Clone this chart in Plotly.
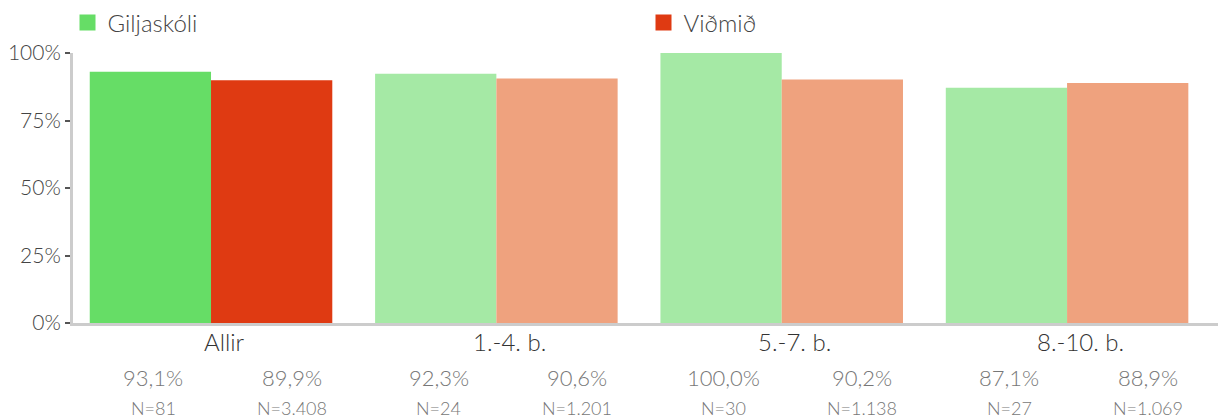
import plotly.graph_objects as go

categories = ["Allir", "1.-4. b.", "5.-7. b.", "8.-10. b."]
school_name = "Giljaskóli"
bench_name = "Viðmið"
school_vals = [93.1, 92.3, 100.0, 87.1]
bench_vals = [89.9, 90.6, 90.2, 88.9]
school_labels = ["93,1%", "92,3%", "100,0%", "87,1%"]
bench_labels = ["89,9%", "90,6%", "90,2%", "88,9%"]
school_n = ["N=81", "N=24", "N=30", "N=27"]
bench_n = ["N=3.408", "N=1.201", "N=1.138", "N=1.069"]
y_ticks = [0, 25, 50, 75, 100]
y_ticktext = ["0%", "25%", "50%", "75%", "100%"]

school_colors = ["#66dd66"] + ["#a5e9a5"] * 3
bench_colors = ["#df3a12"] + ["#efa27e"] * 3

FONT = "Lato"
xs = list(range(len(categories)))

# the page body has an 8px margin, so the figure is drawn 8px smaller
W, H = 1218, 411

fig = go.Figure()
fig.add_trace(go.Bar(x=xs, y=school_vals, name=school_name, showlegend=False,
                     marker=dict(color=school_colors, line=dict(width=0))))
fig.add_trace(go.Bar(x=xs, y=bench_vals, name=bench_name, showlegend=False,
                     marker=dict(color=bench_colors, line=dict(width=0))))
# legend swatches
for nm, col in [(school_name, school_colors[0]), (bench_name, bench_colors[0])]:
    fig.add_trace(go.Scatter(x=[None], y=[None], mode="markers", name=nm,
                             marker=dict(symbol="square", size=16, color=col)))

off = 0.85 / 4
for i in xs:
    fig.add_annotation(x=i + 0.046, y=0, xref="x", yref="paper", text=categories[i],
                       showarrow=False, yanchor="middle", yshift=-18,
                       font=dict(family=FONT, size=24, color="#333333", weight=300))
    for dx, lab, n in [(-off + 0.01, school_labels[i], school_n[i]),
                       (off + 0.07, bench_labels[i], bench_n[i])]:
        fig.add_annotation(x=i + dx, y=0, xref="x", yref="paper", text=lab,
                           showarrow=False, yanchor="middle", yshift=-54,
                           font=dict(family=FONT, size=22, color="#777777", weight=300))
        fig.add_annotation(x=i + dx, y=0, xref="x", yref="paper", text=n,
                           showarrow=False, yanchor="middle", yshift=-85,
                           font=dict(family=FONT, size=18, color="#777777", weight=300))

fig.update_layout(
    width=W, height=H,
    margin=dict(l=65, r=0, t=45, b=96, autoexpand=False),
    paper_bgcolor="white", plot_bgcolor="white",
    barmode="group", bargap=0.15, bargroupgap=0,
    font=dict(family=FONT, color="#333333"),
    showlegend=True,
    legend=dict(orientation="h", xref="container", yref="container",
                x=59.5 / W, y=1 - 15 / H, xanchor="left", yanchor="middle",
                entrywidth=531, itemsizing="trace",
                font=dict(family=FONT, size=24, color="#444444", weight=300),
                itemclick=False),
    xaxis=dict(range=[-0.4837, 3.557], showgrid=False, zeroline=False,
               showline=True, linecolor="#cccccc", linewidth=3,
               ticks="", showticklabels=False),
    yaxis=dict(range=[0, 100], tickvals=y_ticks, ticktext=y_ticktext,
               showgrid=False, zeroline=False, showline=True,
               linecolor="#cccccc", linewidth=3,
               ticks="outside", ticklen=5, tickcolor="#555555", tickwidth=2,
               tickfont=dict(family=FONT, size=21, color="#444444", weight=300)),
)

fig.write_html("out.html")
